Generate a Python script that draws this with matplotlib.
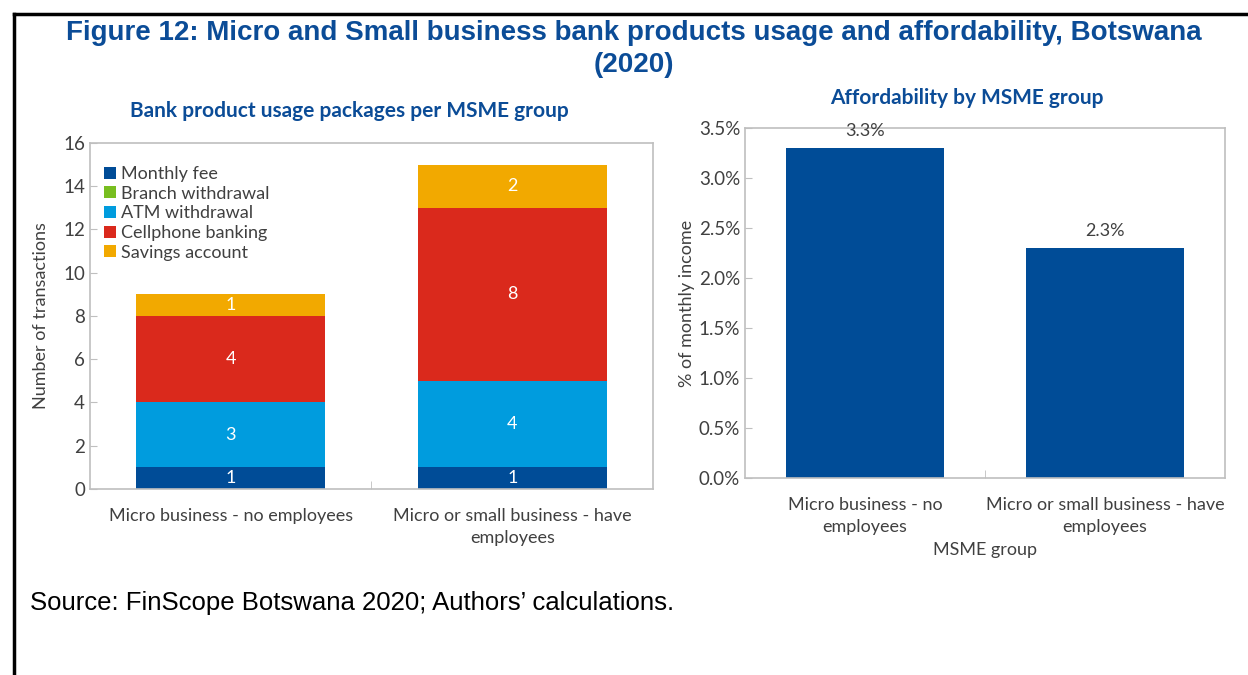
import numpy as np
import matplotlib.pyplot as plt
from matplotlib.lines import Line2D
from matplotlib.ticker import FuncFormatter

plt.rcParams['font.family'] = ['Lato', 'DejaVu Sans']

# usage packages per MSME group
groups = ['Micro business - no employees', 'Micro or small business - have\nemployees']
products = ['Monthly fee', 'Branch withdrawal', 'ATM withdrawal', 'Cellphone banking', 'Savings account']
monthly_fee = [1, 1]
branch_withdrawal = [0, 0]
atm_withdrawal = [3, 4]
cellphone_banking = [4, 8]
savings_account = [1, 2]
product_colors = ['#004C97', '#78BE20', '#009CDE', '#DA291C', '#F2A900']

# affordability
afford_groups = ['Micro business - no\nemployees', 'Micro or small business - have\nemployees']
afford_pct = [3.3, 2.3]

title_blue = '#0B4C97'
txt = '#404040'
frame = '#BFBFBF'
fs = 13

fig = plt.figure(figsize=(12.48, 6.75), dpi=100)

fig.text(0.508, 0.951, 'Figure 12: Micro and Small business bank products usage and affordability, Botswana',
         ha='center', va='center', fontsize=20, fontweight='bold', color=title_blue, family='Liberation Sans')
fig.text(0.508, 0.903, '(2020)', ha='center', va='center', fontsize=20, fontweight='bold',
         color=title_blue, family='Liberation Sans')

# page frame
fig.add_artist(Line2D([0.0115, 0.0115], [0.0, 0.979], color='black', lw=2.5, transform=fig.transFigure))
fig.add_artist(Line2D([0.0115, 1.0], [0.979, 0.979], color='black', lw=2.5, transform=fig.transFigure))


def style_axes(ax):
    for s in ax.spines.values():
        s.set_color(frame)
        s.set_linewidth(1.2)
    ax.tick_params(axis='both', colors=frame, labelcolor=txt, labelsize=fs, direction='in', length=5)
    ax.tick_params(axis='y', labelsize=13.5)
    ax.tick_params(axis='x', length=0, pad=14)
    for lab in ax.get_xticklabels():
        lab.set_linespacing(1.45)
    ax.set_xticks([0.5], minor=True)
    ax.tick_params(axis='x', which='minor', direction='in', length=6, color=frame)


# left: stacked bars
ax1 = fig.add_axes([0.0721, 0.2756, 0.4511, 0.5126])
x = np.arange(len(groups))
series = [monthly_fee, branch_withdrawal, atm_withdrawal, cellphone_banking, savings_account]
bottom = np.zeros(len(groups))
for name, vals, col in zip(products, series, product_colors):
    vals = np.array(vals, dtype=float)
    ax1.bar(x, vals, 0.67, bottom=bottom, color=col, label=name)
    for xi, b, v in zip(x, bottom, vals):
        if v > 0:
            ax1.text(xi, b + v / 2, f'{v:g}', ha='center', va='center', color='white', fontsize=fs)
    bottom += vals
ax1.set_xlim(-0.5, 1.5)
ax1.set_ylim(0, 16)
ax1.set_yticks(range(0, 17, 2))
ax1.set_xticks(x)
ax1.set_xticklabels(groups)
style_axes(ax1)
ax1.set_ylabel('Number of transactions', fontsize=fs, color=txt, labelpad=10)
fig.text(0.28, 0.836, 'Bank product usage packages per MSME group', ha='center', va='center',
         fontsize=15, fontweight='bold', color=title_blue)
leg = ax1.legend(loc='upper left', bbox_to_anchor=(0.0, 0.975), frameon=False, fontsize=fs,
                 handlelength=0.65, handleheight=0.65, handletextpad=0.25, labelspacing=0.2,
                 borderaxespad=0.4)
for t in leg.get_texts():
    t.set_color(txt)

# right: affordability
ax2 = fig.add_axes([0.597, 0.2919, 0.3846, 0.5185])
x2 = np.arange(len(afford_groups))
ax2.bar(x2, afford_pct, 0.655, color='#004C97')
for xi, v in zip(x2, afford_pct):
    ax2.text(xi, v + 0.09, f'{v:.1f}%', ha='center', va='bottom', color=txt, fontsize=fs)
ax2.set_xlim(-0.5, 1.5)
ax2.set_ylim(0, 3.5)
ax2.set_yticks(np.arange(0, 3.51, 0.5))
ax2.yaxis.set_major_formatter(FuncFormatter(lambda v, p: f'{v:.1f}%'))
ax2.set_xticks(x2)
ax2.set_xticklabels(afford_groups)
style_axes(ax2)
ax2.set_ylabel('% of monthly income', fontsize=fs, color=txt, labelpad=3)
ax2.set_xlabel('MSME group', fontsize=fs, color=txt, labelpad=5)
fig.text(0.775, 0.855, 'Affordability by MSME group', ha='center', va='center',
         fontsize=15, fontweight='bold', color=title_blue)

fig.text(0.024, 0.106, 'Source: FinScope Botswana 2020; Authors\u2019 calculations.', fontsize=18.5,
         color='black', family='Liberation Sans', va='center')

fig.savefig('out.png', dpi=100)
